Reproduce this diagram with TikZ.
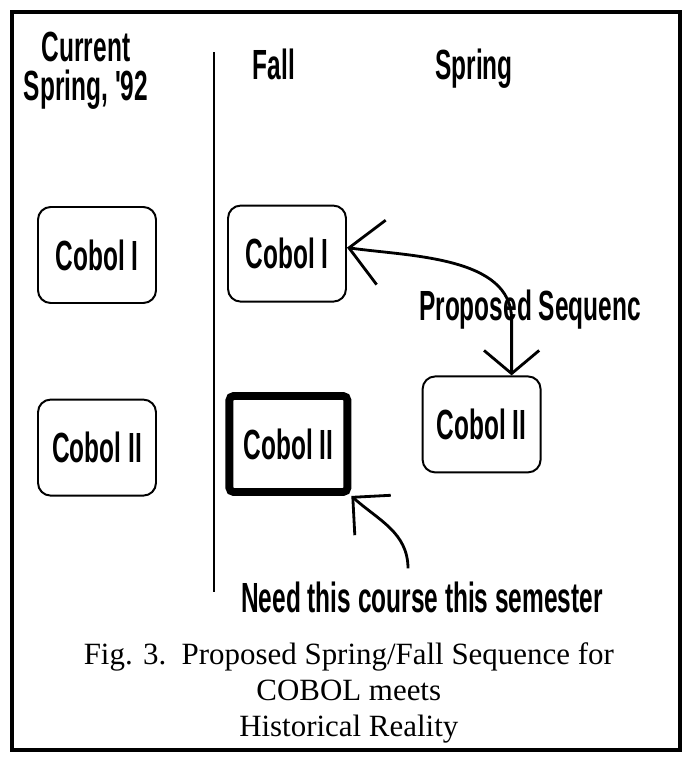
\documentclass[tikz,border=0pt]{standalone}
\usepackage{fontspec}
\setmainfont{Liberation Serif}
\newfontfamily\condsf{Liberation Sans}[FakeStretch=0.58]
\newcommand{\hand}{\condsf\bfseries\fontsize{30}{28}\selectfont}
\usetikzlibrary{arrows.meta, positioning}
\tikzset{
  every picture/.style={line width=1.4pt},
  course/.style={draw, rounded corners=9pt, minimum width=2.95cm, minimum height=2.4cm, inner sep=2pt, font=\hand},
  urgent/.style={course, line width=5.6pt, rounded corners=3pt},
  hand/.style={font=\hand, inner sep=0pt, align=center},
  seq/.style={line width=2pt, {Straight Barb[angle=100:0.9cm]}-{Straight Barb[angle=90:1.15cm]}},
  need/.style={line width=2pt, -{Straight Barb[angle=90:0.95cm]}},
}

\begin{document}
\begin{tikzpicture}
  \useasboundingbox (0,0) rectangle (17.15,-18.925);
  \draw[line width=3.5pt] (0.3,-0.3) rectangle (17.0,-18.75);
  % column heads
  \node[hand, anchor=base] (cur) at (2.15,-2.52) {Current\\Spring, '92};
  \node[hand, anchor=base] (fall) at (6.85,-1.98) {Fall};
  \node[hand, anchor=base] (spring) at (11.85,-1.98) {Spring};
  \draw[line width=2pt] (5.35,-1.3) -- (5.35,-14.8);
  % the courses
  \node[course] (cur1) at (2.425,-6.375) {Cobol I};
  \node[course] (cur2) at (2.425,-11.19) {Cobol II};
  \node[course] (fall1) at (7.175,-6.34) {Cobol I};
  \node[urgent] (fall2) at (7.21,-11.1) {Cobol II};
  \node[course] (spr2) at (12.04,-10.61) {Cobol II};
  % proposed sequence
  \node[hand, anchor=base] (prop) at (13.25,-8.0) {Proposed Sequenc};
  \draw[seq] ([xshift=0.75cm]spr2.north) -- ++(0,1.4) to[out=90, in=-8, looseness=0.9] ([yshift=0.15cm]fall1.east);
  % the course needed now
  \node[hand, anchor=base] (needed) at (10.55,-15.3) {Need this course this semester};
  \coordinate (needtop) at ([xshift=-0.35cm, yshift=0.3cm]needed.north);
  \draw[need] (needtop) to[out=90, in=-42] (fall2.south east);
  % caption
  \node[font=\fontsize{22}{25.6}\selectfont, align=center, anchor=north, inner sep=0pt] (caption) at (8.72,-16.05)
    {Fig. 3.\ \ Proposed Spring/Fall Sequence for\\COBOL meets\\Historical Reality};
\end{tikzpicture}
\end{document}
